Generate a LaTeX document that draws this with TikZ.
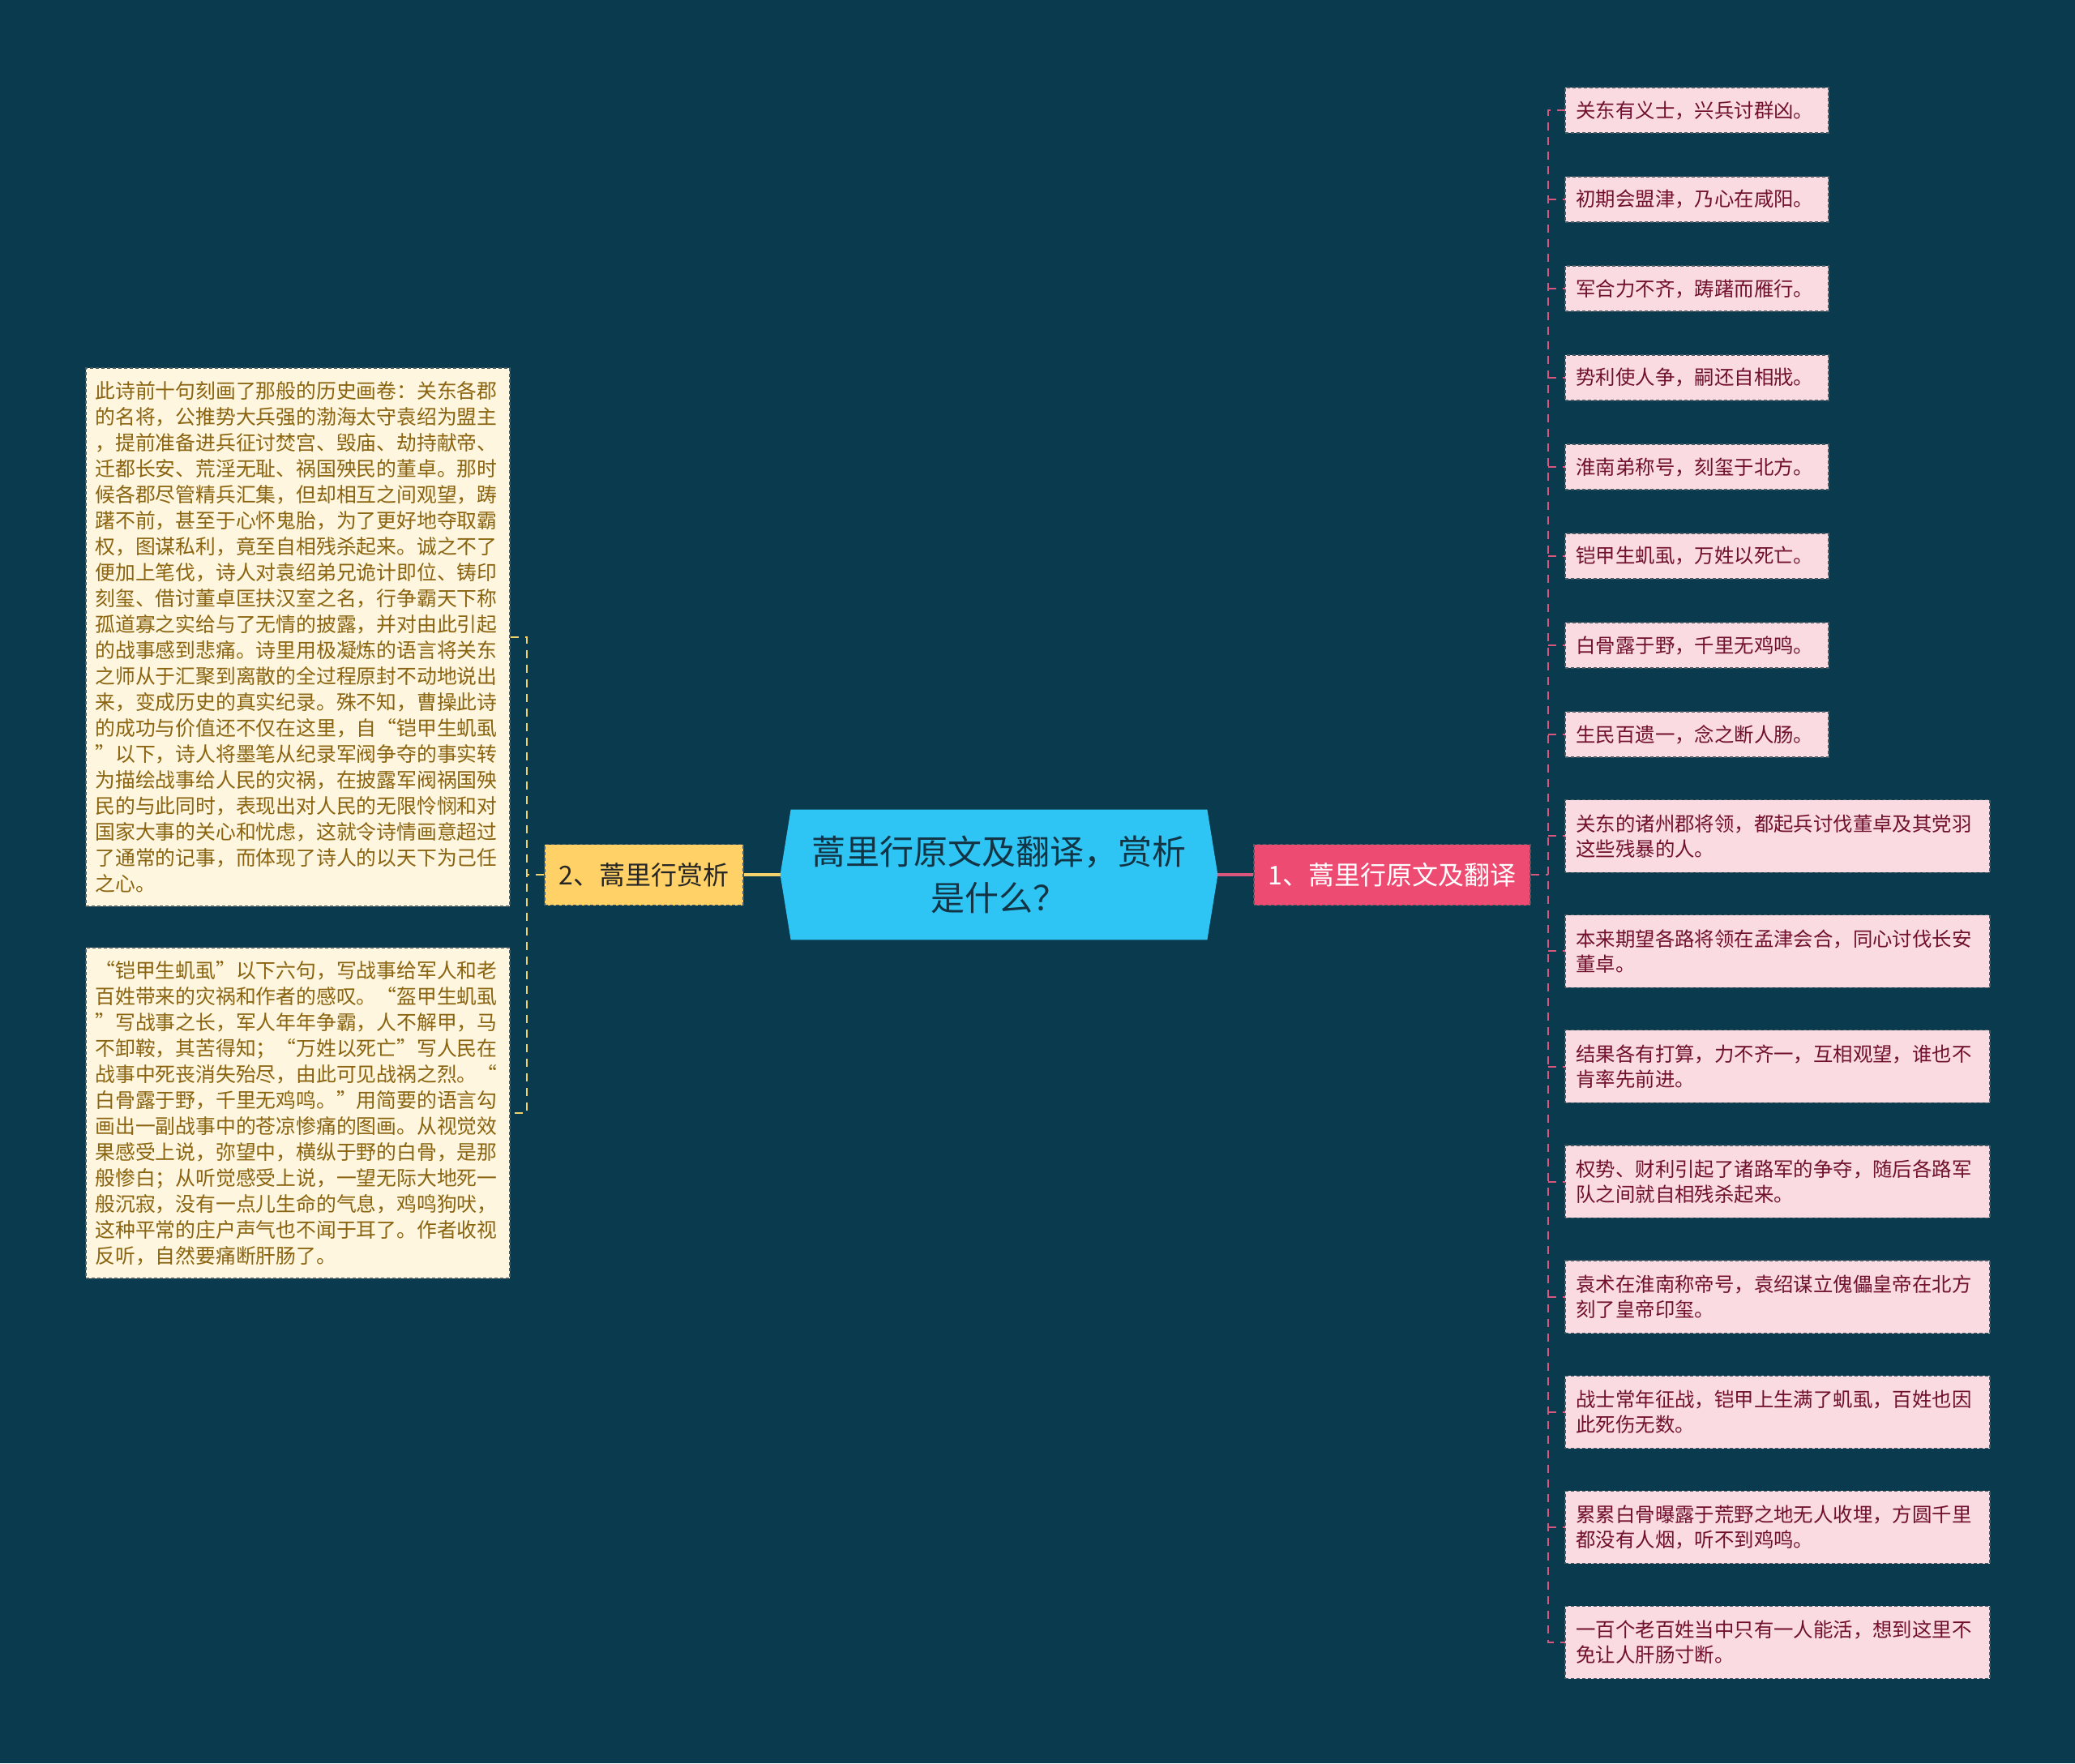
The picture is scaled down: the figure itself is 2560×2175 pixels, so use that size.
\documentclass[tikz,border=0pt]{standalone}
\usepackage{fontspec}
\setmainfont{Noto Sans CJK SC}
\usetikzlibrary{positioning}

\definecolor{bgteal}{HTML}{0A3A4D}
\definecolor{rootfill}{HTML}{2EC4F3}
\definecolor{rootink}{HTML}{123444}
\definecolor{goldfill}{HTML}{FFD166}
\definecolor{rosefill}{HTML}{EE4B72}
\definecolor{creamfill}{HTML}{FEF6DE}
\definecolor{creamink}{HTML}{8A6410}
\definecolor{pinkfill}{HTML}{FADBE1}
\definecolor{pinkink}{HTML}{70102E}
\definecolor{goldline}{HTML}{F2D36B}
\definecolor{roseline}{HTML}{D9577D}
\definecolor{rimgray}{HTML}{4A5A62}

\pgfdeclarelayer{bg}
\pgfsetlayers{bg,main}

\begin{document}
\begin{tikzpicture}[x=0.5pt, y=-0.5pt,
    root/.style={minimum width=256.5pt, minimum height=80pt, inner sep=0pt,
        align=center, text=rootink, font=\fontsize{21}{28.5}\selectfont},
    branch/.style={draw=rimgray, dash pattern=on 2pt off 1.5pt, line width=0.6pt,
        minimum height=37.5pt, inner sep=0pt, font=\fontsize{16}{20}\selectfont},
    note/.style={draw=rimgray, dash pattern=on 2pt off 1.5pt, line width=0.6pt,
        fill=creamfill, text=creamink, align=left, text width=250pt,
        inner xsep=5.75pt, inner ysep=0pt, font=\fontsize{12.4}{16}\selectfont},
    line/.style={draw=rimgray, dash pattern=on 2pt off 1.5pt, line width=0.6pt,
        fill=pinkfill, text=pinkink, align=left, inner xsep=6.75pt, inner ysep=0pt,
        outer sep=0pt, font=\fontsize{12.2}{15.5}\selectfont},
    short/.style={line, text width=149pt, minimum height=28pt},
    long/.style={line, text width=248.5pt, minimum height=44.75pt},
    lline/.style={draw=goldline, line width=1pt, dash pattern=on 5pt off 4pt},
    rline/.style={draw=roseline, line width=1pt, dash pattern=on 5pt off 4pt}]

    \useasboundingbox (0,0) rectangle (2560,2175);

    % centre and the two branches
    \node[root] (root) at (1232.5,1079) {蒿里行原文及翻译，赏析\\是什么？};
    \node[branch, fill=goldfill, text=black!85, minimum width=122.5pt] (lbranch) [left=29pt of root] {2、蒿里行赏析};
    \node[branch, fill=rosefill, text=white, minimum width=170.5pt] (rbranch) [right=28.5pt of root] {1、蒿里行原文及翻译};

    % left side
    \node[note, minimum height=332pt] (l1) at (367.5,786) {此诗前十句刻画了那般的历史画卷：关东各郡\\的名将，公推势大兵强的渤海太守袁绍为盟主\\，提前准备进兵征讨焚宫、毁庙、劫持献帝、\\迁都长安、荒淫无耻、祸国殃民的董卓。那时\\候各郡尽管精兵汇集，但却相互之间观望，踌\\躇不前，甚至于心怀鬼胎，为了更好地夺取霸\\权，图谋私利，竟至自相残杀起来。诚之不了\\便加上笔伐，诗人对袁绍弟兄诡计即位、铸印\\刻玺、借讨董卓匡扶汉室之名，行争霸天下称\\孤道寡之实给与了无情的披露，并对由此引起\\的战事感到悲痛。诗里用极凝炼的语言将关东\\之师从于汇聚到离散的全过程原封不动地说出\\来，变成历史的真实纪录。殊不知，曹操此诗\\的成功与价值还不仅在这里，自“铠甲生虮虱\\”以下，诗人将墨笔从纪录军阀争夺的事实转\\为描绘战事给人民的灾祸，在披露军阀祸国殃\\民的与此同时，表现出对人民的无限怜悯和对\\国家大事的关心和忧虑，这就令诗情画意超过\\了通常的记事，而体现了诗人的以天下为己任\\之心。};
    \node[note, minimum height=204pt] (l2) at (367.5,1373) {“铠甲生虮虱”以下六句，写战事给军人和老\\百姓带来的灾祸和作者的感叹。“盔甲生虮虱\\”写战事之长，军人年年争霸，人不解甲，马\\不卸鞍，其苦得知；“万姓以死亡”写人民在\\战事中死丧消失殆尽，由此可见战祸之烈。“\\白骨露于野，千里无鸡鸣。”用简要的语言勾\\画出一副战事中的苍凉惨痛的图画。从视觉效\\果感受上说，弥望中，横纵于野的白骨，是那\\般惨白；从听觉感受上说，一望无际大地死一\\般沉寂，没有一点儿生命的气息，鸡鸣狗吠，\\这种平常的庄户声气也不闻于耳了。作者收视\\反听，自然要痛断肝肠了。};

    % right side
    \node[short, anchor=north west] (r1) at (1931,108) {关东有义士，兴兵讨群凶。};
    \node[short] (r2) [below=27pt of r1.south west, anchor=north west] {初期会盟津，乃心在咸阳。};
    \node[short] (r3) [below=27pt of r2.south west, anchor=north west] {军合力不齐，踌躇而雁行。};
    \node[short] (r4) [below=27pt of r3.south west, anchor=north west] {势利使人争，嗣还自相戕。};
    \node[short] (r5) [below=27pt of r4.south west, anchor=north west] {淮南弟称号，刻玺于北方。};
    \node[short] (r6) [below=27pt of r5.south west, anchor=north west] {铠甲生虮虱，万姓以死亡。};
    \node[short] (r7) [below=27pt of r6.south west, anchor=north west] {白骨露于野，千里无鸡鸣。};
    \node[short] (r8) [below=27pt of r7.south west, anchor=north west] {生民百遗一，念之断人肠。};
    \node[long] (r9) [below=26.3pt of r8.south west, anchor=north west] {关东的诸州郡将领，都起兵讨伐董卓及其党羽\\这些残暴的人。};
    \node[long] (r10) [below=26.3pt of r9.south west, anchor=north west] {本来期望各路将领在孟津会合，同心讨伐长安\\董卓。};
    \node[long] (r11) [below=26.3pt of r10.south west, anchor=north west] {结果各有打算，力不齐一，互相观望，谁也不\\肯率先前进。};
    \node[long] (r12) [below=26.3pt of r11.south west, anchor=north west] {权势、财利引起了诸路军的争夺，随后各路军\\队之间就自相残杀起来。};
    \node[long] (r13) [below=26.3pt of r12.south west, anchor=north west] {袁术在淮南称帝号，袁绍谋立傀儡皇帝在北方\\刻了皇帝印玺。};
    \node[long] (r14) [below=26.3pt of r13.south west, anchor=north west] {战士常年征战，铠甲上生满了虮虱，百姓也因\\此死伤无数。};
    \node[long] (r15) [below=26.3pt of r14.south west, anchor=north west] {累累白骨曝露于荒野之地无人收埋，方圆千里\\都没有人烟，听不到鸡鸣。};
    \node[long] (r16) [below=26.3pt of r15.south west, anchor=north west] {一百个老百姓当中只有一人能活，想到这里不\\免让人肝肠寸断。};

    \coordinate (lbar) at (650,1079);
    \coordinate (rbar) at (1910,1079);

    \begin{pgfonlayer}{bg}
        \fill[bgteal] (0,0) rectangle (2560,2175);
        \draw[goldline, line width=2pt] (root) -- (lbranch);
        \draw[roseline, line width=2pt] (root) -- (rbranch);
        \fill[rootfill] (root.north west) -- (root.north east) -- ([xshift=6.5pt]root.east)
            -- (root.south east) -- (root.south west) -- ([xshift=-6.5pt]root.west) -- cycle;
    \end{pgfonlayer}

    \draw[lline] (lbranch) -- (lbar);
    \draw[lline] (l1) -| (lbar) |- (l2);

    \draw[rline] (rbranch) -- (rbar);
    \draw[rline] (r1) -| (rbar) |- (r16);
    \path[rline]
    (rbar |- r2) edge (r2)
    (rbar |- r3) edge (r3)
    (rbar |- r4) edge (r4)
    (rbar |- r5) edge (r5)
    (rbar |- r6) edge (r6)
    (rbar |- r7) edge (r7)
    (rbar |- r8) edge (r8)
    (rbar |- r9) edge (r9)
    (rbar |- r10) edge (r10)
    (rbar |- r11) edge (r11)
    (rbar |- r12) edge (r12)
    (rbar |- r13) edge (r13)
    (rbar |- r14) edge (r14)
    (rbar |- r15) edge (r15);
\end{tikzpicture}
\end{document}
